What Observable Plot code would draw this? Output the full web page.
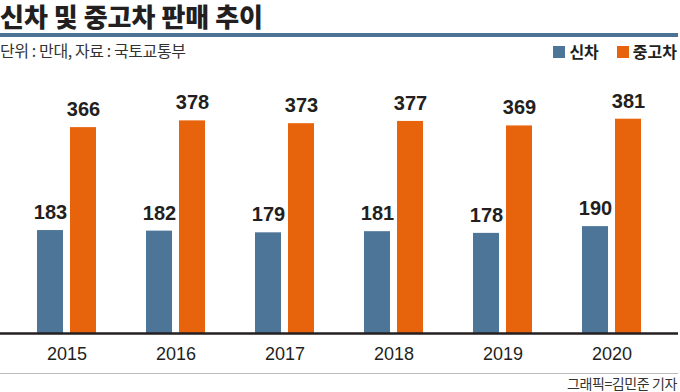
<!DOCTYPE html>
<html><head><meta charset="utf-8">
<script src="https://cdn.jsdelivr.net/npm/d3@7"></script>
<script src="https://cdn.jsdelivr.net/npm/@observablehq/plot@0.6"></script>
<style>
body{margin:0;background:#fff;width:680px;overflow:hidden;font-family:"Noto Sans CJK KR","Noto Sans",sans-serif;color:#231f20}
#title{position:absolute;left:0;top:0px;font-size:26px;font-weight:900;letter-spacing:0px;line-height:32px;white-space:nowrap}
#rule{position:absolute;left:0;top:33px;width:678px;height:4px;background:#4d7394}
#sub{position:absolute;left:0;top:40px;font-size:16px;line-height:21px;letter-spacing:-0.4px;color:#333;white-space:nowrap}
#legend{position:absolute;right:3px;top:41px;font-size:16px;line-height:21px;font-weight:700;white-space:nowrap;display:flex;align-items:center}
#legend span.sw{display:inline-block;width:12px;height:12px;margin-right:4px}
#legend span.lab{margin-right:18px}
#legend span.lab:last-child{margin-right:0}
#chart{position:absolute;left:0;top:62px}
#grule{position:absolute;left:0;top:373px;width:678px;height:1px;background:#bbb}
#credit{position:absolute;right:3px;top:375px;font-size:14px;line-height:17px;letter-spacing:-0.4px;white-space:nowrap;color:#333}
</style></head>
<body>
<div id="title">신차 및 중고차 판매 추이</div>
<div id="rule"></div>
<div id="sub">단위 : 만대, 자료 : 국토교통부</div>
<div id="legend"></div>
<div id="chart"></div>
<div id="grule"></div>
<div id="credit">그래픽=김민준 기자</div>
<script>
const years = ["2015","2016","2017","2018","2019","2020"];
const newCars = [183, 182, 179, 181, 178, 190];
const usedCars = [366, 378, 373, 377, 369, 381];
const seriesNames = ["신차", "중고차"];
const seriesColors = ["#4d7597", "#e8640c"];

const newData = years.map((y, i) => ({year: y, value: newCars[i]}));
const usedData = years.map((y, i) => ({year: y, value: usedCars[i]}));

const legend = document.getElementById("legend");
seriesNames.forEach((n, i) => {
  const sw = document.createElement("span"); sw.className = "sw"; sw.style.background = seriesColors[i];
  const lab = document.createElement("span"); lab.className = "lab"; lab.textContent = n;
  legend.appendChild(sw); legend.appendChild(lab);
});

const half = 33;
const chart = Plot.plot({
  width: 680, height: 302,
  marginLeft: 0, marginRight: 2, marginTop: 46, marginBottom: 31,
  style: {fontFamily: "'Liberation Sans', Arial, sans-serif", color: "#231f20", background: "#fff"},
  x: {domain: years, paddingInner: 0.46, paddingOuter: 0.34, align: 0.5, label: null},
  y: {domain: [0, 400], axis: null},
  marks: [
    Plot.barY(newData, {x: "year", y: "value", fill: seriesColors[0], insetRight: half}),
    Plot.barY(usedData, {x: "year", y: "value", fill: seriesColors[1], insetLeft: half}),
    Plot.text(newData, {x: "year", y: "value", text: d => String(d.value), dx: -16.5, dy: -18, fontSize: 20, fontWeight: 700, fill: "#231f20"}),
    Plot.text(usedData, {x: "year", y: "value", text: d => String(d.value), dx: 16.5, dy: -18, fontSize: 20, fontWeight: 700, fill: "#231f20"}),
    Plot.ruleY([0], {stroke: "#231f20", strokeWidth: 2.5}),
    Plot.axisX({tickSize: 0, tickPadding: 14, fontSize: 18, label: null})
  ]
});
document.getElementById("chart").appendChild(chart);
</script>
</body></html>
